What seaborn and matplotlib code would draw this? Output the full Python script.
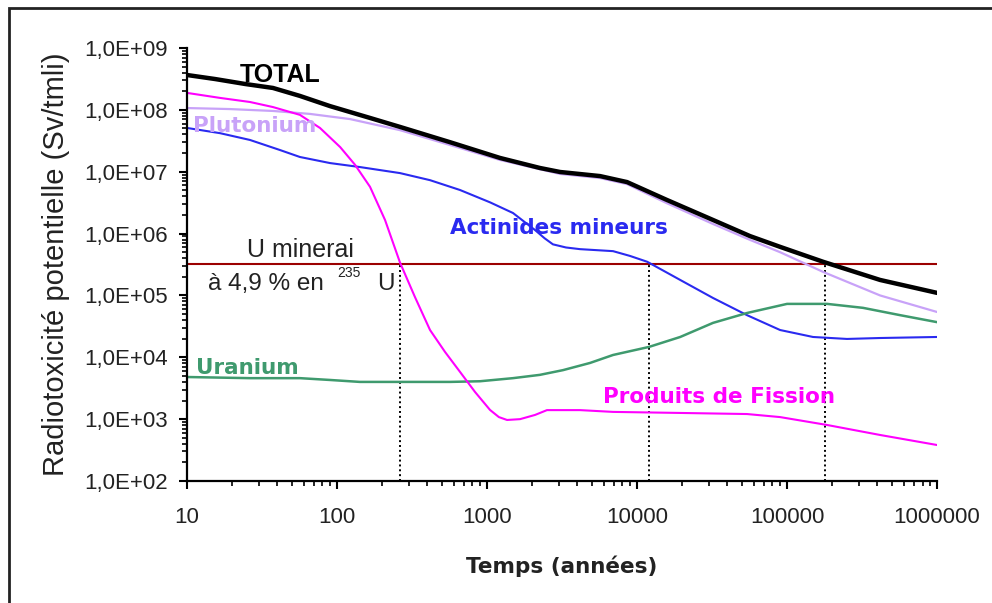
import numpy as np
import pandas as pd
import matplotlib
matplotlib.use("Agg")
import matplotlib.pyplot as plt
import matplotlib.ticker as mticker
import seaborn as sns

# Values (years, Sv/tmli)
years_total = [10, 15.4, 24.4, 37.4, 56.6, 89.8, 166, 263, 567, 1220, 2250, 3070,
               5670, 8580, 15800, 32100, 56700, 89900, 174000, 417000, 1000000]
total = [3.66e8, 3.15e8, 2.62e8, 2.26e8, 1.68e8, 1.15e8, 7.4e7, 5.3e7, 3.0e7, 1.67e7,
         1.15e7, 9.9e6, 8.5e6, 6.8e6, 3.5e6, 1.66e6, 9.1e5, 6.1e5, 3.5e5, 1.78e5, 1.1e5]

years_pu = [10, 19.3, 37.4, 66, 122, 263, 567, 1220, 3070, 5670, 8580, 15800, 32100,
            56700, 89900, 174000, 417000, 1000000]
plutonium = [1.07e8, 1.03e8, 9.6e7, 8.6e7, 7.1e7, 4.7e7, 2.7e7, 1.55e7, 9.2e6, 7.9e6,
             6.3e6, 3.1e6, 1.43e6, 7.9e5, 5.0e5, 2.4e5, 1.0e5, 5.4e4]

years_am = [10, 16.6, 26.3, 41.7, 56.6, 89.8, 142, 263, 417, 661, 1047, 1490, 2090,
            2420, 2750, 3360, 4170, 6920, 8980, 11700, 19400, 32100, 54100, 89900,
            149000, 251000, 417000, 1000000]
actinides = [5.1e7, 4.2e7, 3.26e7, 2.24e7, 1.73e7, 1.38e7, 1.19e7, 9.5e6, 7.3e6, 5.06e6,
             3.2e6, 2.15e6, 1.14e6, 8.4e5, 6.7e5, 5.96e5, 5.6e5, 5.2e5, 4.35e5, 3.5e5,
             1.78e5, 9.1e4, 4.8e4, 2.76e4, 2.13e4, 1.98e4, 2.05e4, 2.13e4]

years_u = [10, 26.3, 56.6, 89.8, 142, 263, 567, 898, 1490, 2250, 3210, 4860, 6920,
           12000, 19400, 32100, 54100, 100000, 185000, 321000, 567000, 1000000]
uranium = [4.8e3, 4.6e3, 4.6e3, 4.3e3, 4.0e3, 4.0e3, 4.0e3, 4.1e3, 4.6e3, 5.2e3, 6.2e3,
           8.1e3, 1.09e4, 1.47e4, 2.13e4, 3.6e4, 5.2e4, 7.3e4, 7.3e4, 6.3e4, 4.8e4, 3.7e4]

years_pf = [10, 16.6, 26.3, 37.4, 56.6, 77, 105, 132, 166, 209, 263, 331, 417, 525,
            661, 832, 1047, 1200, 1360, 1660, 2090, 2510, 4170, 6920, 19400, 54100,
            89900, 185000, 417000, 1000000]
fission = [1.88e8, 1.56e8, 1.34e8, 1.11e8, 8.3e7, 5.1e7, 2.5e7, 1.29e7, 5.7e6, 1.66e6,
           3.4e5, 9.4e4, 2.76e4, 1.22e4, 5.8e3, 2.75e3, 1.41e3, 1.08e3, 970, 1.0e3,
           1.17e3, 1.4e3, 1.4e3, 1.31e3, 1.26e3, 1.21e3, 1.08e3, 805, 555, 382]

ore_level = 3.2e5
cross_years = [263, 12000, 180000]

series = [
    ("TOTAL", years_total, total, "#000000", 3.2),
    ("Plutonium", years_pu, plutonium, "#c8a2f8", 1.6),
    ("Actinides mineurs", years_am, actinides, "#2a2af0", 1.5),
    ("Uranium", years_u, uranium, "#3f9a6e", 1.8),
    ("Produits de Fission", years_pf, fission, "#ff00ff", 1.5),
]

sns.set_style("ticks")
plt.rcParams["font.family"] = ["Liberation Sans", "DejaVu Sans"]

fig = plt.figure(figsize=(9.92, 6.03), dpi=100)
ax = fig.add_axes([0.1885, 0.2023, 0.7561, 0.7181])

for name, yrs, vals, color, lw in series:
    df = pd.DataFrame({"Temps": yrs, "Radiotoxicite": vals})
    sns.lineplot(data=df, x="Temps", y="Radiotoxicite", color=color, linewidth=lw,
                 ax=ax, zorder=3 if name == "TOTAL" else 2,
                 solid_joinstyle="round", solid_capstyle="round")

ax.set_xscale("log")
ax.set_yscale("log")
ax.set_xlim(10, 1e6)
ax.set_ylim(1e2, 1e9)

# uranium ore reference level and crossing years
ax.axhline(ore_level, color="#9b0000", linewidth=1.5, zorder=1)
ax.vlines(cross_years, 1e2, ore_level, colors="black", linestyles=(0, (1, 1.5)),
          linewidth=1.4, zorder=1)

ax.yaxis.set_major_locator(mticker.LogLocator(base=10, numticks=20))
ax.yaxis.set_minor_locator(mticker.LogLocator(base=10, subs=range(2, 10), numticks=100))
ax.xaxis.set_major_locator(mticker.LogLocator(base=10, numticks=20))
ax.xaxis.set_minor_locator(mticker.LogLocator(base=10, subs=range(2, 10), numticks=100))
ax.yaxis.set_major_formatter(mticker.FuncFormatter(
    lambda v, p: "1,0E+%02d" % int(round(np.log10(v)))))
ax.xaxis.set_major_formatter(mticker.FuncFormatter(lambda v, p: "%d" % int(round(v))))
ax.yaxis.set_minor_formatter(mticker.NullFormatter())
ax.xaxis.set_minor_formatter(mticker.NullFormatter())

ax.tick_params(which="major", direction="out", length=6, width=1.5, labelsize=16,
               color="black", labelcolor="#222222")
ax.tick_params(which="minor", direction="out", length=3.5, width=1.2, color="black")
ax.tick_params(axis="y", which="major", pad=8)
ax.tick_params(axis="x", which="major", pad=13)

sns.despine(ax=ax)
for side in ["left", "bottom"]:
    ax.spines[side].set_linewidth(1.6)
    ax.spines[side].set_color("black")

ax.set_xlabel("Temps (années)", family="DejaVu Sans", fontweight="bold", fontsize=15.5,
              color="#222222")
ax.set_ylabel("Radiotoxicité potentielle (Sv/tmli)", fontsize=21, color="#222222")
ax.xaxis.set_label_coords(0.5, -0.171)
ax.yaxis.set_label_coords(-0.156, 0.5)

# curve labels
ax.text(22.6, 2.82e8, "TOTAL", fontsize=18, fontweight="bold", color="black",
        ha="left", va="baseline")
lab = dict(family="DejaVu Sans", fontweight="bold", fontsize=15.5, ha="left", va="baseline")
ax.text(11.0, 4.38e7, "Plutonium", color="#c8a2f8", **lab)
ax.text(567, 9.8e5, "Actinides mineurs", color="#2a2af0", **lab)
ax.text(11.5, 5.37e3, "Uranium", color="#3f9a6e", **lab)
ax.text(5930, 1.82e3, "Produits de Fission", color="#ff00ff", **lab)

ax.text(25.1, 4.18e5, "U minerai", fontsize=18, color="#222222", ha="left", va="baseline")
ax.text(13.8, 1.22e5, "à 4,9 % en", fontsize=17.5, color="#222222", ha="left", va="baseline")
ax.text(100, 1.99e5, "235", fontsize=10, color="#222222", ha="left", va="baseline")
ax.text(185, 1.22e5, "U", fontsize=17.5, color="#222222", ha="left", va="baseline")

# outer frame of the original figure
fig.add_artist(plt.Rectangle((9 / 992, -0.1), 1.2, 1 - 8 / 603 + 0.1, fill=False,
                             edgecolor="#222222", linewidth=2,
                             transform=fig.transFigure))

fig.savefig("out.png", dpi=100)
plt.close(fig)
